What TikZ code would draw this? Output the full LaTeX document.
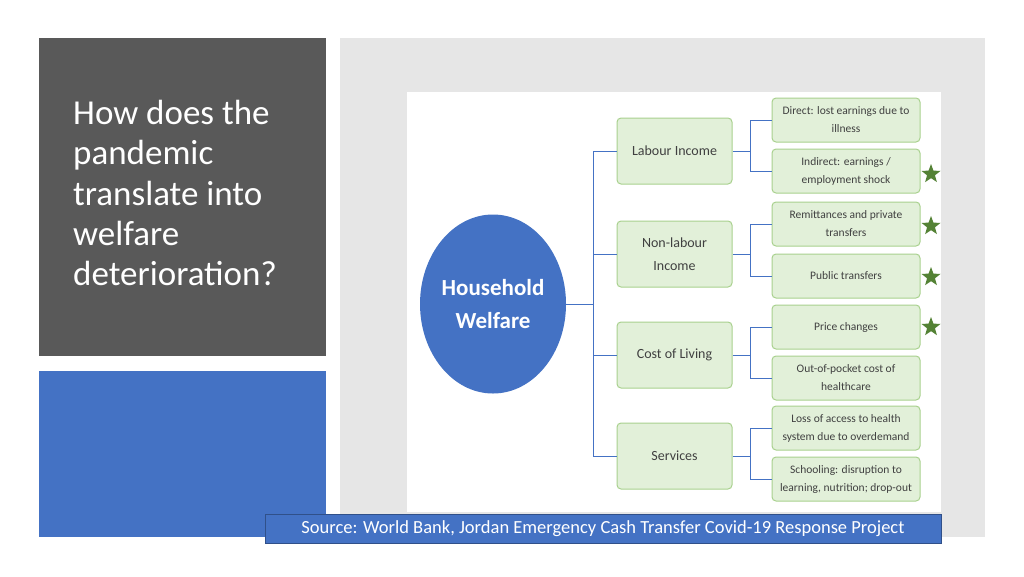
\documentclass[tikz,border=0pt]{standalone}
\usepackage{fontspec}
\setmainfont{Carlito}
\usetikzlibrary{shapes.geometric}
\definecolor{dgray}{HTML}{595959}
\definecolor{pblue}{HTML}{4472C4}
\definecolor{lgray}{HTML}{E6E6E6}
\definecolor{gfill}{HTML}{E2F0D9}
\definecolor{gline}{HTML}{A9D18E}
\definecolor{stargreen}{HTML}{548235}
\tikzset{
 midbox/.style={draw=gline,fill=gfill,rounded corners=4pt,line width=1pt,minimum width=115pt,minimum height=66pt,align=center,font=\fontsize{14}{23}\selectfont,text=black!75},
 leaf/.style={draw=gline,fill=gfill,rounded corners=4pt,line width=1pt,minimum width=148pt,minimum height=44pt,align=center,font=\fontsize{11.5}{18}\selectfont,text=black!75},
 conn/.style={draw=pblue,line width=0.8pt},
 starn/.style={shape=star,star points=5,star point ratio=2.4,fill=stargreen,inner sep=0pt,minimum size=20pt}
}
\begin{document}
\begin{tikzpicture}[x=1pt,y=-1pt]
\useasboundingbox (0,0) rectangle (1024,576);
\fill[white] (0,0) rectangle (1024,576);
\fill[dgray] (39,38) rectangle (326,356);
\fill[pblue] (39,371) rectangle (326,537);
\fill[lgray] (340,38) rectangle (985,537);
\fill[white] (407,92) rectangle (941,512);
\node[anchor=north west,align=left,text=white,font=\fontsize{35}{40.3}\selectfont,inner sep=0pt] (title) at (73,100) {How does the\\pandemic\\translate into\\welfare\\deterioration?};
\node[ellipse,fill=pblue,minimum width=146pt,minimum height=179pt,inner sep=0pt,align=center,text=white,font=\bfseries\fontsize{23}{33}\selectfont] (hw) at (493,304) {Household\\Welfare};
\node[midbox] (m1) at (674.5,151) {Labour Income};
\node[midbox] (m2) at (674.5,254) {Non-labour\\Income};
\node[midbox] (m3) at (674.5,355) {Cost of Living};
\node[midbox] (m4) at (674.5,456) {Services};
\node[leaf] (l1) at (846,120) {Direct: lost earnings due to\\illness};
\node[leaf] (l2) at (846,171) {Indirect: earnings /\\employment shock};
\node[leaf] (l3) at (846,224) {Remittances and private\\transfers};
\node[leaf] (l4) at (846,276) {Public transfers};
\node[leaf] (l5) at (846,327) {Price changes};
\node[leaf] (l6) at (846,378) {Out-of-pocket cost of\\healthcare};
\node[leaf] (l7) at (846,428) {Loss of access to health\\system due to overdemand};
\node[leaf] (l8) at (846,479) {Schooling: disruption to\\learning, nutrition; drop-out};
\coordinate (t) at (593,304);
\draw[conn] (hw.east) -- (t);
\foreach \m in {m1,m2,m3,m4} \draw[conn] (t) -- (t |- \m.west) -- (\m.west);
\foreach \m/\a/\b in {m1/l1/l2,m2/l3/l4,m3/l5/l6,m4/l7/l8}{
 \coordinate (j) at (750,0);
 \draw[conn] (\m.east) -- (j |- \m.east);
 \draw[conn] (\a.west) -- (j |- \a.west) -- (j |- \b.west) -- (\b.west);
}
\node[starn] (s1) at (931,174) {};
\node[starn] (s2) at (931,226) {};
\node[starn] (s3) at (931,277) {};
\node[starn] (s4) at (931,327) {};
\node[draw=pblue!70!black,fill=pblue,minimum width=676pt,minimum height=29pt,text=white,font=\fontsize{18.5}{20}\selectfont] (src) at (603,528.5) {Source: World Bank, Jordan Emergency Cash Transfer Covid-19 Response Project};
\end{tikzpicture}
\end{document}
